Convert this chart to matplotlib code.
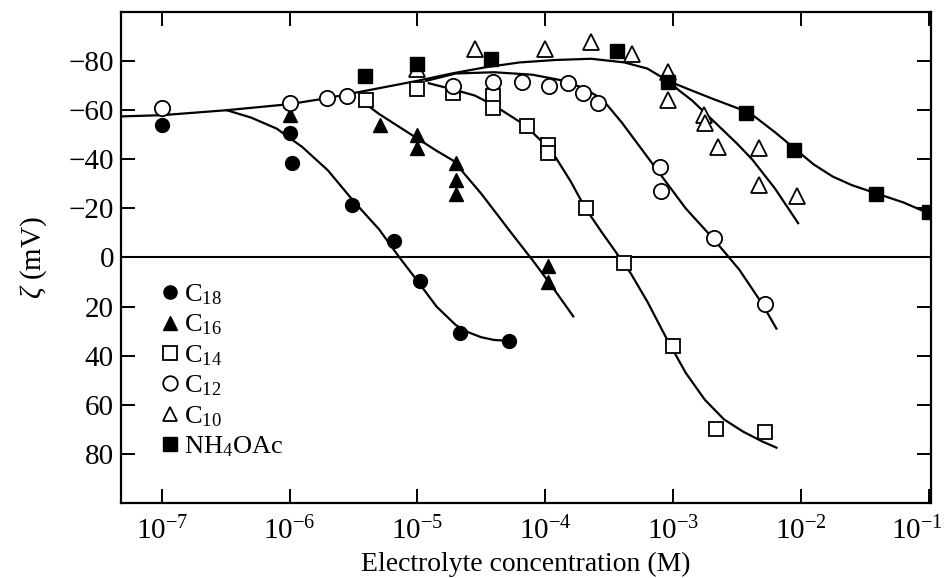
import numpy as np
import matplotlib
matplotlib.use('Agg')
import matplotlib.pyplot as plt
from matplotlib.ticker import NullLocator, FixedLocator
from matplotlib.transforms import ScaledTranslation

plt.rcParams['font.family'] = ['Liberation Serif', 'DejaVu Serif']
plt.rcParams['mathtext.fontset'] = 'custom'
plt.rcParams['mathtext.rm'] = 'Liberation Serif'
plt.rcParams['mathtext.it'] = 'Liberation Serif:italic'

# measured points (log10 of concentration, zeta in mV)
c18_logc = [-7.0, -6.0, -5.98, -5.51, -5.18, -4.98, -4.67, -4.28]
c18_zeta = [-54, -50.6, -38.4, -21.6, -6.9, 9.4, 30.6, 34]

c16_logc = [-6.0, -5.29, -5.0, -5.0, -4.7, -4.7, -4.7, -3.98, -3.98]
c16_zeta = [-58, -54, -50, -44.5, -38.4, -31.4, -26, 3.3, 10]

c14_logc = [-5.40, -5.0, -4.72, -4.41, -4.41, -4.14, -3.98, -3.98, -3.68, -3.38, -3.0, -2.66, -2.28]
c14_zeta = [-64, -68.5, -67, -66, -61, -53.5, -46, -42.5, -20, 2.4, 36, 70, 71]

c12_logc = [-7.0, -6.0, -5.71, -5.55, -4.72, -4.41, -4.18, -3.97, -3.82, -3.70, -3.59, -3.10, -3.09, -2.68, -2.28]
c12_zeta = [-61, -63, -65, -66, -70, -71.4, -71.4, -70, -71, -67, -63, -37, -27, -7.8, 18.8]

c10_logc = [-5.0, -4.55, -4.0, -3.64, -3.32, -3.04, -3.04, -2.76, -2.75, -2.65, -2.33, -2.33, -2.03]
c10_zeta = [-77, -85, -85, -88, -83, -75.5, -64, -58, -55, -45, -44.5, -29.4, -25]

nh4_logc = [-5.41, -5.0, -4.42, -3.44, -3.04, -2.43, -2.05, -1.41, -1.0]
nh4_zeta = [-74, -79, -81, -84, -71.4, -59, -44, -26, -18.4]

# drawn curves
main_curve_logc = [-7.32, -7.0, -6.5, -6.0, -5.7, -5.4, -5.0, -4.73, -4.47, -4.2, -3.92, -3.64,
                   -3.38, -3.2, -3.04, -2.85, -2.68, -2.4, -2.2, -2.05, -1.9, -1.75, -1.6,
                   -1.43, -1.2, -1.02]
main_curve_zeta = [-57.5, -58, -60, -62.5, -65, -68, -72, -75, -77.5, -79.5, -80.5, -81,
                   -79.5, -77, -72, -68, -64.5, -59, -51, -44.5, -38, -33, -29.5,
                   -26.5, -22.5, -18.5]

c18_curve_logc = [-6.49, -6.3, -6.1, -5.9, -5.7, -5.5, -5.3, -5.14, -5.0, -4.85, -4.7,
                  -4.6, -4.5, -4.4, -4.28]
c18_curve_zeta = [-60, -57, -52.5, -45, -35.5, -23, -11.5, 0, 9.5, 20, 27.5,
                  30.5, 32.5, 33.6, 34]

c16_curve_logc = [-5.44, -5.3, -5.15, -5.0, -4.85, -4.72, -4.5, -4.25, -4.1, -3.95, -3.78]
c16_curve_zeta = [-64, -58.5, -53.5, -48.5, -43.5, -39.5, -26, -9, 1, 11.5, 24]

c14_curve_logc = [-4.91, -4.72, -4.55, -4.4, -4.28, -4.16, -4.04, -3.92, -3.8, -3.69,
                  -3.56, -3.43, -3.33, -3.2, -3.05, -2.9, -2.75, -2.6, -2.45, -2.3, -2.19]
c14_curve_zeta = [-71, -68.5, -66, -62, -58, -54, -48, -41, -31, -20.5,
                  -10.5, -1, 6.5, 18, 33, 47, 58, 66, 71, 75, 77.5]

c12_curve_logc = [-4.93, -4.7, -4.4, -4.1, -3.85, -3.7, -3.6, -3.52, -3.4, -3.3, -3.1,
                  -2.9, -2.69, -2.48, -2.3, -2.19]
c12_curve_zeta = [-72, -75, -75.5, -74.5, -72, -69, -66, -62.5, -55, -48, -34,
                  -20, -8, 5, 19, 29]

c10_curve_logc = [-3.04, -2.95, -2.85, -2.75, -2.64, -2.5, -2.38, -2.2, -2.02]
c10_curve_zeta = [-72, -68, -64, -59, -53.5, -46.5, -40, -28, -14]

xtick_exp = [-7, -6, -5, -4, -3, -2, -1]
yticks = [-80, -60, -40, -20, 0, 20, 40, 60, 80]

fig = plt.figure(figsize=(9.52, 5.78), dpi=100)
ax = fig.add_axes([0.127, 0.130, 0.851, 0.849])

def c(v):
    return 10.0 ** np.array(v)

# curves
for lx, z in [(main_curve_logc, main_curve_zeta), (c18_curve_logc, c18_curve_zeta),
              (c16_curve_logc, c16_curve_zeta), (c14_curve_logc, c14_curve_zeta),
              (c12_curve_logc, c12_curve_zeta), (c10_curve_logc, c10_curve_zeta)]:
    ax.plot(c(lx), z, color='black', lw=1.6, zorder=2)

ax.axhline(0, color='black', lw=1.5, zorder=1)

ms = 10
ax.plot(c(c18_logc), c18_zeta, 'o', color='black', ms=ms, zorder=3, label=r'C$_{18}$')
ax.plot(c(c16_logc), c16_zeta, '^', color='black', ms=ms, zorder=3, label=r'C$_{16}$')
ax.plot(c(c14_logc), c14_zeta, 's', mfc='white', mec='black', mew=1.3, ms=ms, zorder=3, label=r'C$_{14}$')
ax.plot(c(c12_logc), c12_zeta, 'o', mfc='white', mec='black', mew=1.3, ms=ms + 1, zorder=3, label=r'C$_{12}$')
ax.plot(c(c10_logc), c10_zeta, '^', mfc='white', mec='black', mew=1.3, ms=ms + 1, zorder=3, label=r'C$_{10}$')
ax.plot(c(nh4_logc), nh4_zeta, 's', color='black', ms=ms, zorder=4, label=r'NH$_4$OAc')

ax.set_xscale('log')
ax.set_xlim(10 ** -7.32, 10 ** -0.98)
ax.set_ylim(100, -100)

ax.xaxis.set_major_locator(FixedLocator(c(xtick_exp)))
ax.xaxis.set_minor_locator(NullLocator())
ax.set_xticklabels([r'10$^{%d}$' % e for e in xtick_exp])
ax.set_yticks(yticks)
ax.set_yticklabels([str(v).replace('-', '\u2212') for v in yticks])

ax.tick_params(direction='in', length=10, width=1.4, top=True, right=True,
               labelsize=21, pad=5)
ax.tick_params(axis='x', pad=10)
for s in ax.spines.values():
    s.set_linewidth(1.6)

# last x label sits at the figure edge, nudge it in a little
last = ax.get_xticklabels()[-1]
last.set_transform(last.get_transform() + ScaledTranslation(-8 / 72, 0, fig.dpi_scale_trans))

ax.set_xlabel('Electrolyte concentration (M)', fontsize=20, labelpad=5)
ax.set_ylabel(r'$\zeta$ (mV)', fontsize=21, labelpad=14)

leg = ax.legend(loc='upper left', bbox_to_anchor=(0.021, 0.487), frameon=False,
                fontsize=19, handletextpad=0.05, labelspacing=0.22,
                handlelength=1.0, borderpad=0.2, markerscale=0.95)

fig.savefig('out.png', dpi=100)
